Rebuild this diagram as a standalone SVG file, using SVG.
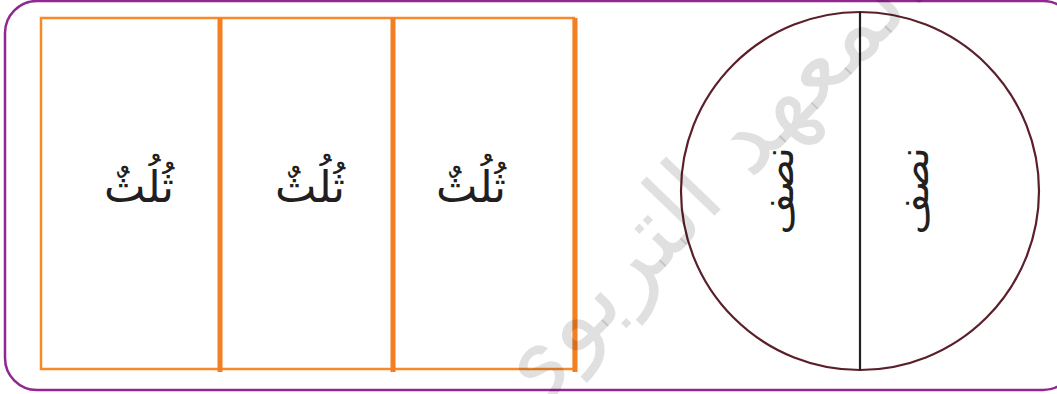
<svg xmlns="http://www.w3.org/2000/svg" width="1057" height="394" viewBox="0 0 1057 394">
<style>
.frame{fill:#fff;stroke:#92278f;stroke-width:2.5}
.thin{fill:none;stroke:#f7892a;stroke-width:2.5}
.thick{stroke:#f47f20;stroke-width:5}
.lbl{font-family:"DejaVu Sans","Noto Sans",sans-serif;font-size:44px;fill:#231f20;text-anchor:middle}
.half{font-family:"DejaVu Sans","Noto Sans",sans-serif;font-size:40px;fill:#231f20;text-anchor:middle}
.circ{fill:none;stroke:#5b1f2a;stroke-width:2.2}
.wm{font-family:"DejaVu Sans","Noto Sans",sans-serif;font-size:100px;fill:#000;fill-opacity:0.12;text-anchor:middle}
</style>
<rect class="frame" x="5" y="1" width="1070" height="389" rx="32" ry="32"/>
<g id="thirds">
  <rect class="thin" x="41" y="18" width="533" height="351"/>
  <line class="thick" x1="220" y1="18" x2="220" y2="372"/>
  <line class="thick" x1="393" y1="18" x2="393" y2="372"/>
  <line class="thick" x1="575" y1="18" x2="575" y2="372"/>
</g>
<g id="third1"><text class="lbl" x="139" y="202" direction="rtl">ثُلُثٌ</text></g>
<g id="third2"><text class="lbl" x="310" y="202" direction="rtl">ثُلُثٌ</text></g>
<g id="third3"><text class="lbl" x="471" y="202" direction="rtl">ثُلُثٌ</text></g>
<g id="circle">
  <circle class="circ" cx="860" cy="191" r="179"/>
  <line x1="860" y1="12" x2="860" y2="370" stroke="#231f20" stroke-width="2.2"/>
</g>
<g id="half1"><text class="half" transform="translate(793,191) rotate(-90)" x="0" y="0" direction="rtl">نصف</text></g>
<g id="half2"><text class="half" transform="translate(928,191) rotate(-90)" x="0" y="0" direction="rtl">نصف</text></g>
<text class="wm" transform="translate(725,205) rotate(-46)" x="0" y="0" direction="rtl">المعهد التربوي</text>
</svg>
